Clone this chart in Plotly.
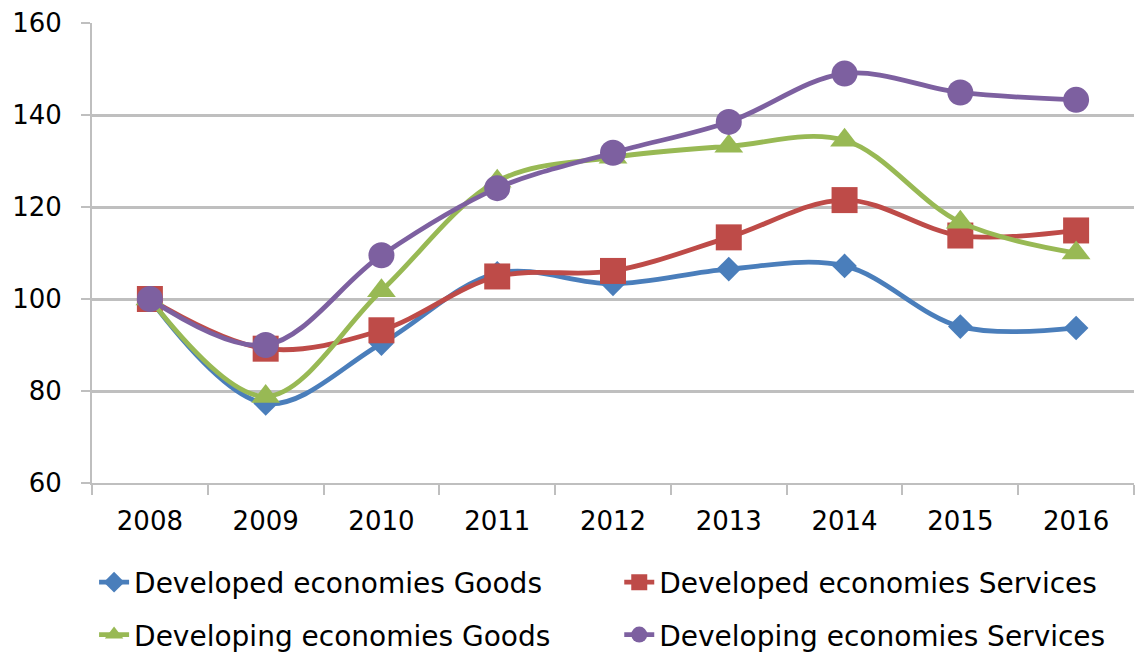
import plotly.graph_objects as go

years = ["2008", "2009", "2010", "2011", "2012", "2013", "2014", "2015", "2016"]
dev_goods = [100, 77.3, 90.3, 105.6, 103.3, 106.5, 107.2, 94.0, 93.7]
dev_services = [100, 89.2, 93.2, 104.9, 106.1, 113.4, 121.5, 113.8, 114.9]
deving_goods = [100, 78.8, 101.8, 125.6, 130.8, 133.2, 134.5, 116.7, 110.0]
deving_services = [100, 90.0, 109.5, 124.1, 131.8, 138.5, 149.0, 144.9, 143.3]

names = ["Developed economies Goods", "Developed economies Services",
         "Developing economies Goods", "Developing economies Services"]
series = [dev_goods, dev_services, deving_goods, deving_services]
colors = ["#4A7EBB", "#BE4B48", "#98B954", "#7D60A0"]
symbols = ["diamond", "square", "triangle-up", "circle"]
sizes = [19, 26, 25, 26]
legends = ["legend", "legend2", "legend", "legend2"]

fig = go.Figure()
for name, vals, col, sym, sz, lg in zip(names, series, colors, symbols, sizes, legends):
    fig.add_trace(go.Scatter(
        x=years, y=vals, name=name, mode="lines+markers",
        line=dict(color=col, width=4.8, shape="spline", smoothing=1.0),
        marker=dict(color=col, symbol=sym, size=sz, line=dict(width=0)),
        legend=lg, legendgroup=name,
    ))

font = "DejaVu Sans, sans-serif"
fig.update_layout(
    width=1141, height=652,
    margin=dict(l=92, r=7, t=23, b=169, autoexpand=False),
    paper_bgcolor="white", plot_bgcolor="white",
    font=dict(family=font, size=26, color="black"),
    xaxis=dict(type="category", tickson="boundaries", range=[-0.5, 8.5],
               showgrid=False, showline=True, linecolor="#BFBFBF", linewidth=2,
               ticks="outside", ticklen=10, tickwidth=2, tickcolor="#BFBFBF",
               tickfont=dict(size=26), ticklabelstandoff=14, automargin=False),
    yaxis=dict(range=[60, 160], dtick=20, showgrid=True, gridcolor="#BFBFBF",
               gridwidth=2.5, showline=True, linecolor="#BFBFBF", linewidth=2,
               ticks="outside", ticklen=9, tickwidth=2, tickcolor="#BFBFBF",
               tickfont=dict(size=26), zeroline=False, automargin=False,
               ticklabelstandoff=14),
    legend=dict(x=0.002, y=-0.162, xanchor="left", yanchor="top",
                orientation="v", tracegroupgap=13, font=dict(size=28),
                bgcolor="rgba(0,0,0,0)"),
    legend2=dict(x=0.506, y=-0.162, xanchor="left", yanchor="top",
                 orientation="v", tracegroupgap=13, font=dict(size=28),
                 bgcolor="rgba(0,0,0,0)"),
)

fig.write_html("out.html", config={"displayModeBar": False},
               post_script="document.body.style.margin='0';document.body.style.overflow='hidden';")
